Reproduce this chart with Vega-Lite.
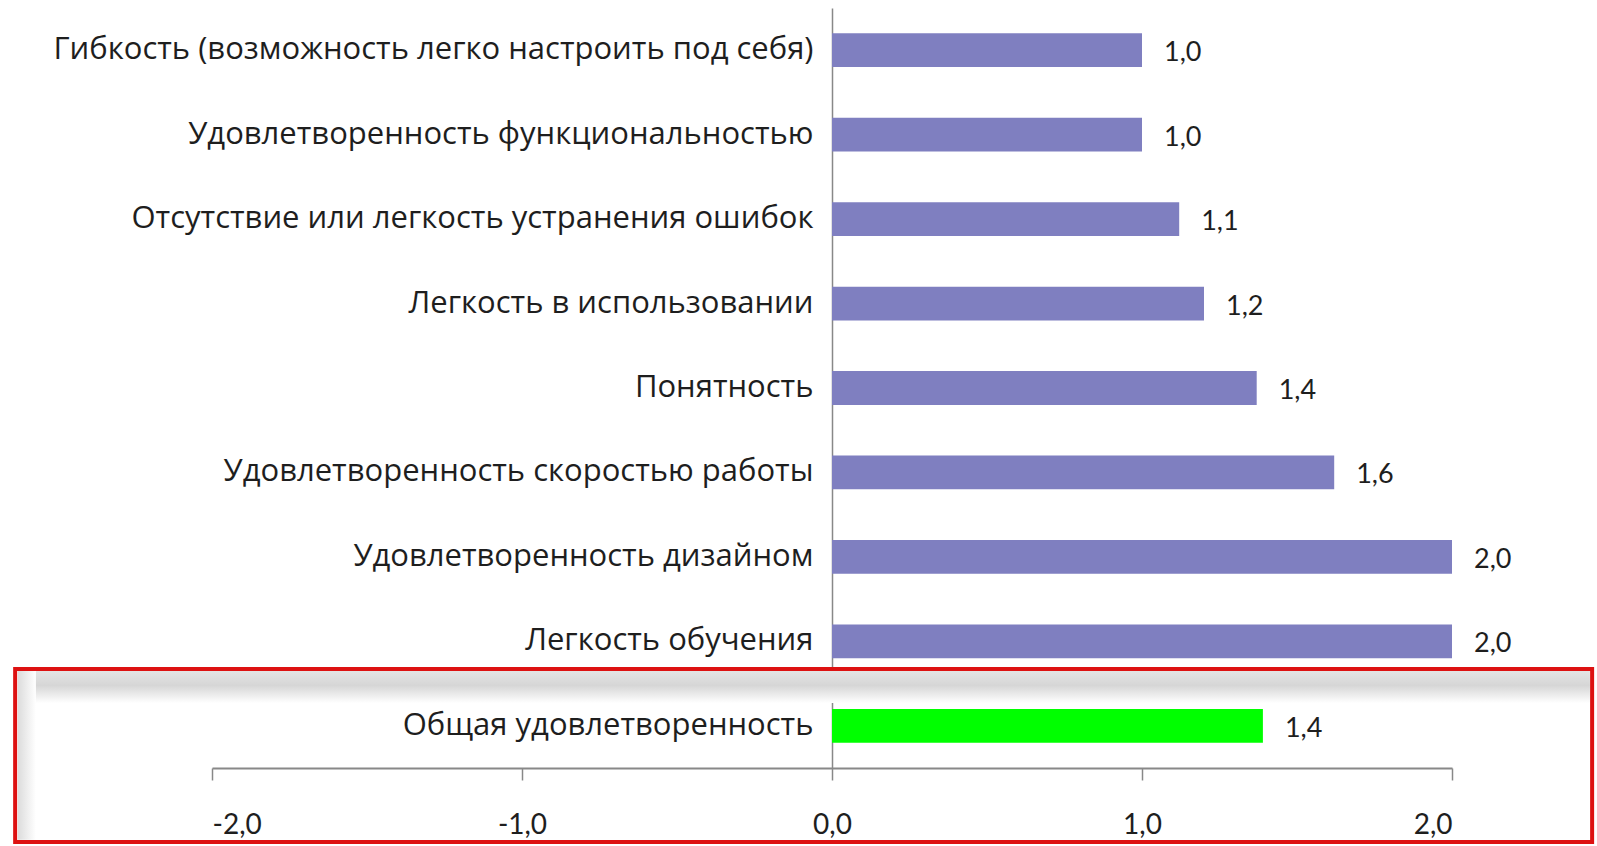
{
  "$schema": "https://vega.github.io/schema/vega-lite/v6.json",
  "width": 1240,
  "height": 760,
  "autosize": {"type": "none"},
  "padding": {"left": 212, "top": 8, "right": 145, "bottom": 78},
  "background": "white",
  "config": {
    "view": {"stroke": null},
    "locale": {"number": {"decimal": ",", "thousands": " ", "grouping": [3], "currency": ["", ""], "minus": "-"}},
    "font": "Lato"
  },
  "datasets": {
    "bars": [
      {"criterion": "Гибкость (возможность легко настроить под себя)", "value": 1.0, "group": "item"},
      {"criterion": "Удовлетворенность функциональностью", "value": 1.0, "group": "item"},
      {"criterion": "Отсутствие или легкость устранения ошибок", "value": 1.12, "group": "item"},
      {"criterion": "Легкость в использовании", "value": 1.2, "group": "item"},
      {"criterion": "Понятность", "value": 1.37, "group": "item"},
      {"criterion": "Удовлетворенность скоростью  работы", "value": 1.62, "group": "item"},
      {"criterion": "Удовлетворенность дизайном", "value": 2.0, "group": "item"},
      {"criterion": "Легкость обучения", "value": 2.0, "group": "item"},
      {"criterion": "Общая удовлетворенность", "value": 1.39, "group": "total"}
    ],
    "deco": [
      {"kind": "shadeTop", "x1": -2.626, "x2": 2.445, "y1": 7.852, "y2": 8.231},
      {"kind": "shadeLeft", "x1": -2.626, "x2": -2.568, "y1": 7.852, "y2": 9.85},
      {"kind": "frame", "x1": -2.635, "x2": 2.452, "y1": 7.828, "y2": 9.877}
    ]
  },
  "layer": [
    {
      "data": {"name": "deco"},
      "transform": [{"filter": "datum.kind === 'shadeTop'"}],
      "mark": {"type": "rect", "clip": false, "fill": {"gradient": "linear", "x1": 0, "y1": 0, "x2": 0, "y2": 1, "stops": [{"offset": 0, "color": "#e4e4e4"}, {"offset": 0.45, "color": "#d6d6d6"}, {"offset": 1, "color": "#ffffff"}]}},
      "encoding": {
        "x": {"field": "x1", "type": "quantitative", "scale": {"domain": [-2, 2], "nice": false, "zero": false}},
        "x2": {"field": "x2"},
        "y": {"field": "y1", "type": "quantitative", "scale": {"domain": [0, 9], "reverse": true, "nice": false, "zero": false}, "axis": null},
        "y2": {"field": "y2"}
      }
    },
    {
      "data": {"name": "deco"},
      "transform": [{"filter": "datum.kind === 'shadeLeft'"}],
      "mark": {"type": "rect", "clip": false, "fill": {"gradient": "linear", "x1": 0, "y1": 0, "x2": 1, "y2": 0, "stops": [{"offset": 0, "color": "#dcdcdc"}, {"offset": 1, "color": "#ffffff"}]}},
      "encoding": {
        "x": {"field": "x1", "type": "quantitative", "scale": {"domain": [-2, 2], "nice": false, "zero": false}},
        "x2": {"field": "x2"},
        "y": {"field": "y1", "type": "quantitative", "scale": {"domain": [0, 9], "reverse": true, "nice": false, "zero": false}, "axis": null},
        "y2": {"field": "y2"}
      }
    },
    {
      "data": {"name": "deco"},
      "transform": [{"filter": "datum.kind === 'frame'"}],
      "mark": {"type": "rect", "clip": false, "fill": null, "stroke": "#dd1111", "strokeWidth": 4},
      "encoding": {
        "x": {"field": "x1", "type": "quantitative", "scale": {"domain": [-2, 2], "nice": false, "zero": false}},
        "x2": {"field": "x2"},
        "y": {"field": "y1", "type": "quantitative", "scale": {"domain": [0, 9], "reverse": true, "nice": false, "zero": false}, "axis": null},
        "y2": {"field": "y2"}
      }
    },
    {
      "data": {"name": "bars"},
      "encoding": {
        "y": {
          "field": "criterion", "type": "nominal", "sort": null,
          "scale": {"paddingInner": 0.6, "paddingOuter": 0.3},
          "axis": {"orient": "left", "offset": -620, "title": null, "ticks": false, "grid": false, "domainColor": "#888888", "domainWidth": 1.5, "labelPadding": 19, "labelFontSize": 31, "labelColor": "#1e1e1e", "labelLimit": 0, "labelFont": "Open Sans"}
        },
        "x": {
          "field": "value", "type": "quantitative",
          "scale": {"domain": [-2, 2], "nice": false},
          "axis": {"orient": "bottom", "values": [-2, -1, 0, 1, 2], "format": ".1f", "title": null, "grid": false, "domainColor": "#888888", "domainWidth": 2, "tickColor": "#888888", "tickWidth": 1.5, "tickSize": 12, "labelPadding": 31, "labelFontSize": 28, "labelColor": "#1e1e1e", "labelFont": "Lato"}
        }
      },
      "layer": [
        {
          "mark": {"type": "bar"},
          "encoding": {
            "color": {"field": "group", "type": "nominal", "scale": {"domain": ["item", "total"], "range": ["#7f7fc0", "#00ff00"]}, "legend": null}
          }
        },
        {
          "mark": {"type": "text", "align": "left", "baseline": "middle", "dx": 22, "dy": 3, "fontSize": 27, "color": "#1e1e1e", "font": "Lato"},
          "encoding": {
            "text": {"field": "value", "type": "quantitative", "format": ".1f"}
          }
        }
      ]
    }
  ],
  "resolve": {"scale": {"y": "independent"}}
}
